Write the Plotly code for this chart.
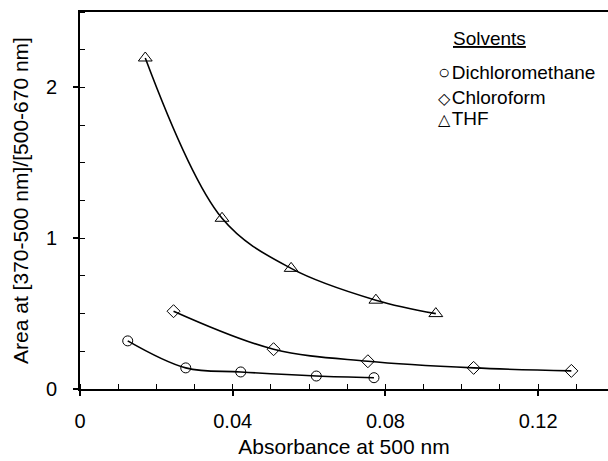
import plotly.graph_objects as go

# ---- data ----
solvents = ["Dichloromethane", "Chloroform", "THF"]
legend_symbols = ["○", "◇", "△"]
dcm_x = [0.0125, 0.0277, 0.0421, 0.0619, 0.0770]
dcm_y = [0.319, 0.140, 0.113, 0.086, 0.075]
chl_x = [0.0245, 0.0507, 0.0754, 0.1031, 0.1287]
chl_y = [0.516, 0.264, 0.184, 0.140, 0.120]
thf_x = [0.0171, 0.0372, 0.0553, 0.0775, 0.0932]
thf_y = [2.195, 1.132, 0.800, 0.589, 0.500]
x_ticks = [0, 0.04, 0.08, 0.12]
x_tick_labels = ["0", "0.04", "0.08", "0.12"]
y_ticks = [0, 1, 2]
y_tick_labels = ["0", "1", "2"]

FONT = "Arial, Liberation Sans, Helvetica, sans-serif"
series = [
    (solvents[0], dcm_x, dcm_y, "circle-open", 10),
    (solvents[1], chl_x, chl_y, "diamond-open", 10),
    (solvents[2], thf_x, thf_y, "triangle-up-open", 12),
]

fig = go.Figure()
for name, xs, ys, sym, sz in series:
    fig.add_trace(go.Scatter(
        x=xs, y=ys, mode="lines", line=dict(color="black", width=1.6, shape="spline", smoothing=1.0),
        showlegend=False, hoverinfo="skip"))
for name, xs, ys, sym, sz in series:
    fig.add_trace(go.Scatter(
        x=xs, y=ys, mode="markers", name=name, showlegend=False,
        marker=dict(symbol=sym, size=sz, color="black", line=dict(color="black", width=1))))

# legend drawn as text block (like the reference)
annotations = [dict(
    text="<u>Solvents</u>", xref="paper", yref="paper", x=0.7765, y=0.9284,
    xanchor="center", yanchor="middle", showarrow=False, font=dict(size=19))]
legend_y = [0.8408, 0.7745, 0.7162]
legend_sym_size = [20, 16, 16]
for sym, name, yy, ss in zip(legend_symbols, solvents, legend_y, legend_sym_size):
    annotations.append(dict(
        text=f"<span style='font-size:{ss}px'>{sym}</span><span style='font-size:6px'> </span>{name}",
        xref="paper", yref="paper",
        x=0.675, y=yy, xanchor="left", yanchor="middle", showarrow=False, font=dict(size=19)))

fig.update_layout(
    width=608, height=461,
    margin=dict(l=80, r=0, t=12, b=72),
    paper_bgcolor="white", plot_bgcolor="white",
    font=dict(family=FONT, size=20, color="black"),
    showlegend=False,
    annotations=annotations,
)
fig.update_xaxes(
    range=[0, 0.1383], tickvals=x_ticks, ticktext=x_tick_labels,
    showline=True, linecolor="black", linewidth=1.6, mirror=True,
    ticks="outside", ticklen=5, tickwidth=1.6, tickcolor="black", ticklabelstandoff=8,
    minor=dict(dtick=0.01, tick0=0, ticks="inside", ticklen=5, tickwidth=1.2, tickcolor="black"),
    showgrid=False, zeroline=False, automargin=False,
    tickfont=dict(size=20),
    title=dict(text="Absorbance at 500 nm", font=dict(size=21), standoff=9),
)
fig.update_yaxes(
    range=[0, 2.5], tickvals=y_ticks, ticktext=y_tick_labels,
    showline=True, linecolor="black", linewidth=1.6,
    ticks="outside", ticklen=5, tickwidth=1.6, tickcolor="black", ticklabelstandoff=12,
    minor=dict(dtick=0.25, tick0=0, ticks="inside", ticklen=5, tickwidth=1.2, tickcolor="black"),
    showgrid=False, zeroline=False, automargin=False,
    tickfont=dict(size=20),
    title=dict(text="Area at [370-500 nm]/[500-670 nm]", font=dict(size=21), standoff=12),
)
fig.write_html("out.html", config={"displayModeBar": False},
               post_script="document.body.style.margin='0px';")
